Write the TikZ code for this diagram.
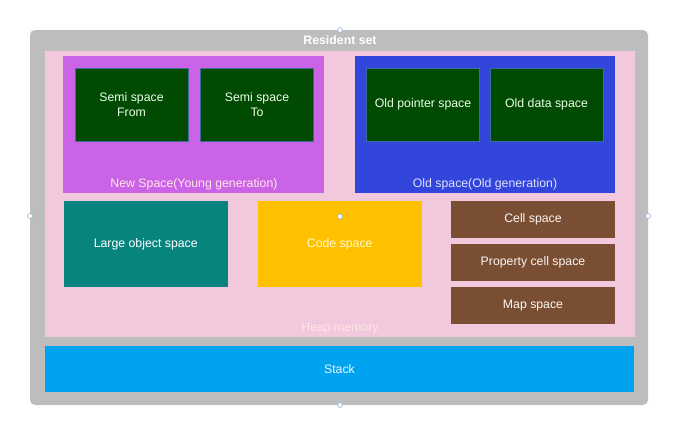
\documentclass[tikz,border=0pt]{standalone}
\usepackage{fontspec}
\setmainfont{Liberation Sans}

\definecolor{ResidentGray}{HTML}{BDBDBD}
\definecolor{HeapPink}{HTML}{F2C8DC}
\definecolor{NewPurple}{HTML}{CB63E6}
\definecolor{OldBlue}{HTML}{3346DB}
\definecolor{SemiGreen}{HTML}{014A01}
\definecolor{LargeTeal}{HTML}{08847E}
\definecolor{CodeYellow}{HTML}{FFC000}
\definecolor{CellBrown}{HTML}{7A4E32}
\definecolor{StackBlue}{HTML}{00A3F0}
\definecolor{EdgeBlue}{HTML}{3C6E9C}
\definecolor{HandleBlue}{HTML}{8FB4D8}

\newcommand{\BoxFont}{\fontsize{12.3}{15}\selectfont}

\tikzset{
    SpaceBox/.style={shape=rectangle, inner sep=0pt, outer sep=0pt, align=center, font=\BoxFont},
    SemiBox/.style={SpaceBox, fill=SemiGreen, draw=EdgeBlue, line width=0.6pt, text=green!8!white,
        minimum width=113pt, minimum height=73pt},
    CellBox/.style={SpaceBox, fill=CellBrown, text=white!94!brown, minimum width=164pt, minimum height=37pt},
    AreaLabel/.style={shape=rectangle, inner sep=0pt, anchor=base, font=\BoxFont},
    Handle/.style={circle, draw=HandleBlue, fill=white, inner sep=0pt, minimum size=5pt, line width=0.6pt}
}

\begin{document}
\begin{tikzpicture}[x=1pt, y=-1pt]
\useasboundingbox (0,0) rectangle (687,432);

% Outer areas
\draw [fill=ResidentGray, draw=none, rounded corners=5pt] (30,30) rectangle (648,405);
\draw [fill=HeapPink, draw=none] (45,51) rectangle (635,337);
\draw [fill=NewPurple, draw=none] (63,56) rectangle (324,193);
\draw [fill=OldBlue, draw=none] (355,56) rectangle (615,193);

% Area labels
\node (R) at (340,44.5) [AreaLabel, text=white, font=\BoxFont\bfseries] {Resident set};
\node (N) at (194,187.5) [AreaLabel, text=pink!35!white] {New Space(Young generation)};
\node (O) at (485,187.5) [AreaLabel, text=blue!12!white] {Old space(Old generation)};
\node (H) at (340,331.5) [AreaLabel, text=pink!40!white] {Heap memory};

% Young and old generation spaces
\node (A) at (131.5,104.5) [SemiBox] {Semi space\\From};
\node (B) at (257,104.5) [SemiBox] {Semi space\\To};
\node (C) at (423,104.5) [SemiBox] {Old pointer space};
\node (D) at (546.5,104.5) [SemiBox] {Old data space};

% Other spaces
\node (L) at (145.75,244) [SpaceBox, fill=LargeTeal, text=white, minimum width=164.5pt, minimum height=86pt]
    {Large object space};
\node (K) at (339.75,244) [SpaceBox, fill=CodeYellow, text=yellow!20!white, minimum width=164pt, minimum height=86pt]
    {Code space};
\node (E) at (533,219.5) [CellBox] {Cell space};
\node (P) at (533,262.5) [CellBox] {Property cell space};
\node (M) at (533,305.7) [CellBox] {Map space};

% Stack
\node (S) at (339.5,369) [SpaceBox, fill=StackBlue, text=cyan!8!white, minimum width=589pt, minimum height=46pt]
    {Stack};

% Selection handles
\node (h1) at (340,30) [Handle] {};
\node (h2) at (30,216) [Handle] {};
\node (h3) at (648,216) [Handle] {};
\node (h4) at (340,405) [Handle] {};
\node (h5) at (340,216.5) [Handle] {};

\end{tikzpicture}
\end{document}
